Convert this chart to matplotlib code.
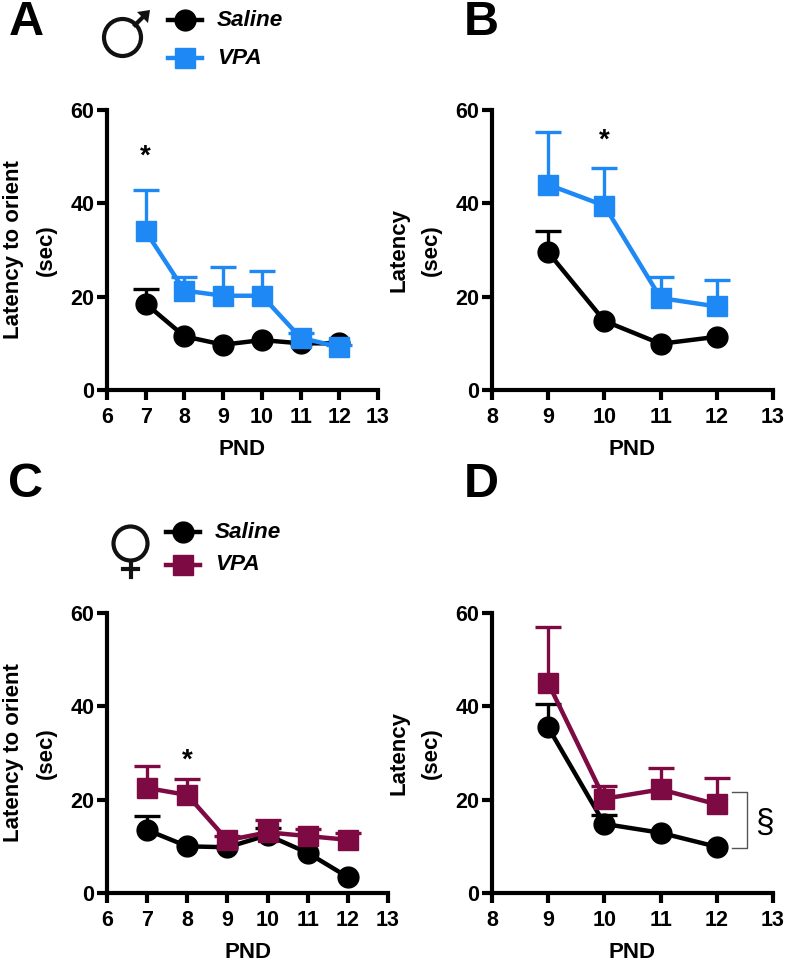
import matplotlib
matplotlib.use("Agg")
import matplotlib.pyplot as plt
from matplotlib.patches import Circle, Polygon

plt.rcParams['font.family'] = ['Liberation Sans', 'DejaVu Sans']
plt.rcParams['font.weight'] = 'bold'

W, H = 787, 964
BLUE = "#1E88F5"
PURPLE = "#7D0A42"

# panel A
pnd_a = [7, 8, 9, 10, 11, 12]
sal_a = [18.5, 11.5, 9.7, 10.7, 10.0, 10.0]
sal_a_err = [3.2, 0, 0, 0, 0, 0]
vpa_a = [34, 21.3, 20.2, 20.2, 11.2, 9.2]
vpa_a_err = [8.8, 3.0, 6.2, 5.3, 1.0, 0.5]

# panel B
pnd_b = [9, 10, 11, 12]
sal_b = [29.5, 14.8, 9.9, 11.4]
sal_b_err = [4.6, 0, 0, 0]
vpa_b = [44, 39.5, 19.7, 17.9]
vpa_b_err = [11.2, 8.0, 4.5, 5.7]

# panel C
pnd_c = [7, 8, 9, 10, 11, 12]
sal_c = [13.5, 10.0, 9.8, 12.4, 8.6, 3.4]
sal_c_err = [3.0, 0, 0, 1.5, 0, 0]
vpa_c = [22.5, 21, 11.3, 13, 12.2, 11.4]
vpa_c_err = [4.7, 3.5, 1.0, 2.6, 1.5, 1.5]

# panel D
pnd_d = [9, 10, 11, 12]
sal_d = [35.5, 14.8, 12.9, 9.9]
sal_d_err = [4.9, 2.0, 0, 0]
vpa_d = [45, 20.2, 22.2, 19]
vpa_d_err = [12, 2.8, 4.6, 5.6]

y_ticks = [0, 20, 40, 60]


def make_axes(x0, x1, y_top, y_bot):
    return fig.add_axes([x0 / W, 1 - y_bot / H, (x1 - x0) / W, (y_bot - y_top) / H])


def draw_series(ax, pnd, vals, errs, color, marker, z):
    # upper bars only, so no cap sits at the mean
    px = [p for p, e in zip(pnd, errs) if e > 0]
    low = [v for v, e in zip(vals, errs) if e > 0]
    top = [v + e for v, e in zip(vals, errs) if e > 0]
    ax.vlines(px, low, top, color=color, lw=2.4, zorder=z, clip_on=False)
    ax.plot(px, top, ls="none", marker="_", ms=18.5, mew=2.4, color=color, zorder=z, clip_on=False)
    ax.plot(pnd, vals, color=color, lw=3.2, marker=marker, ms=15, zorder=z, clip_on=False)


def draw_panel(ax, xlim, pnd, sal, sal_err, vpa, vpa_err, color, ylabel):
    draw_series(ax, pnd, sal, sal_err, "black", "o", 3)
    draw_series(ax, pnd, vpa, vpa_err, color, "s", 4)
    ax.set_xlim(*xlim)
    ax.set_ylim(0, 60)
    ax.set_xticks(range(xlim[0], xlim[1] + 1))
    ax.set_yticks(y_ticks)
    ax.tick_params(width=3, length=7.5, labelsize=15.5, pad=1.5)
    ax.tick_params(axis="x", pad=5)
    for side in ["top", "right"]:
        ax.spines[side].set_visible(False)
    for side in ["left", "bottom"]:
        ax.spines[side].set_linewidth(3)
    ax.set_xlabel("PND", fontsize=16, fontweight="bold", labelpad=7.5)
    ax.set_ylabel(ylabel, fontsize=16, fontweight="bold", labelpad=9.5, linespacing=1.75)


fig = plt.figure(figsize=(W / 100, H / 100), dpi=100)

ax_a = make_axes(107, 378, 110, 390)
ax_b = make_axes(492, 773, 110, 390)
ax_c = make_axes(107, 388, 613, 893)
ax_d = make_axes(492, 773, 613, 893)

draw_panel(ax_a, (6, 13), pnd_a, sal_a, sal_a_err, vpa_a, vpa_a_err, BLUE, "Latency to orient\n(sec)")
draw_panel(ax_b, (8, 13), pnd_b, sal_b, sal_b_err, vpa_b, vpa_b_err, BLUE, "Latency\n(sec)")
draw_panel(ax_c, (6, 13), pnd_c, sal_c, sal_c_err, vpa_c, vpa_c_err, PURPLE, "Latency to orient\n(sec)")
draw_panel(ax_d, (8, 13), pnd_d, sal_d, sal_d_err, vpa_d, vpa_d_err, PURPLE, "Latency\n(sec)")

# significance stars
ax_a.text(7, 50, "*", ha="center", va="center", fontsize=20)
ax_b.text(10, 53.4, "*", ha="center", va="center", fontsize=20)
ax_c.text(8, 28.4, "*", ha="center", va="center", fontsize=20)

# bracket and section sign, panel D
ax_d.plot([12.27, 12.53, 12.53, 12.27], [21.6, 21.6, 9.6, 9.6], color="#555555", lw=1, clip_on=False)
ax_d.text(12.85, 15, "§", ha="center", va="center", fontsize=24, fontweight="normal")


def fig_text(px, py, s, **kw):
    fig.text(px / W, 1 - py / H, s, **kw)


# panel letters
for letter, px, py in [("A", 26, 35), ("B", 481, 35), ("C", 26, 497), ("D", 481, 497)]:
    fig_text(px, py, letter, fontsize=35, fontweight="bold", ha="center", va="baseline")

# overlay in pixel coordinates for the sex icons
icons = fig.add_axes([0, 0, 1, 1], xlim=(0, W), ylim=(H, 0))
icons.axis("off")
icons.patch.set_alpha(0)

# male icon
icons.add_patch(Circle((122.5, 37.5), 18.5, fill=False, ec="#111111", lw=3))
icons.plot([135, 146], [25, 14], color="#111111", lw=3)
icons.add_patch(Polygon([(150, 10), (137, 12), (148, 23)], fc="#111111", ec="none"))

# female icon
icons.add_patch(Circle((130.5, 543.5), 17, fill=False, ec="#111111", lw=3))
icons.plot([130.5, 130.5], [561, 577], color="#111111", lw=3)
icons.plot([123, 138], [569, 569], color="#111111", lw=3)


def legend_row(px0, px1, py, color, marker, label, tx):
    icons.plot([px0, px1], [py, py], color=color, lw=3.2)
    icons.plot([(px0 + px1) / 2], [py], color=color, marker=marker, ms=15)
    icons.text(tx, py, label, fontsize=16.2, style="italic", fontweight="bold", ha="left", va="center")


legend_row(168, 202, 20, "black", "o", "Saline", 217)
legend_row(168, 202, 58, BLUE, "s", "VPA", 217)
legend_row(166, 200, 532, "black", "o", "Saline", 215)
legend_row(166, 200, 565, PURPLE, "s", "VPA", 215)

fig.savefig("out.png", dpi=100)
